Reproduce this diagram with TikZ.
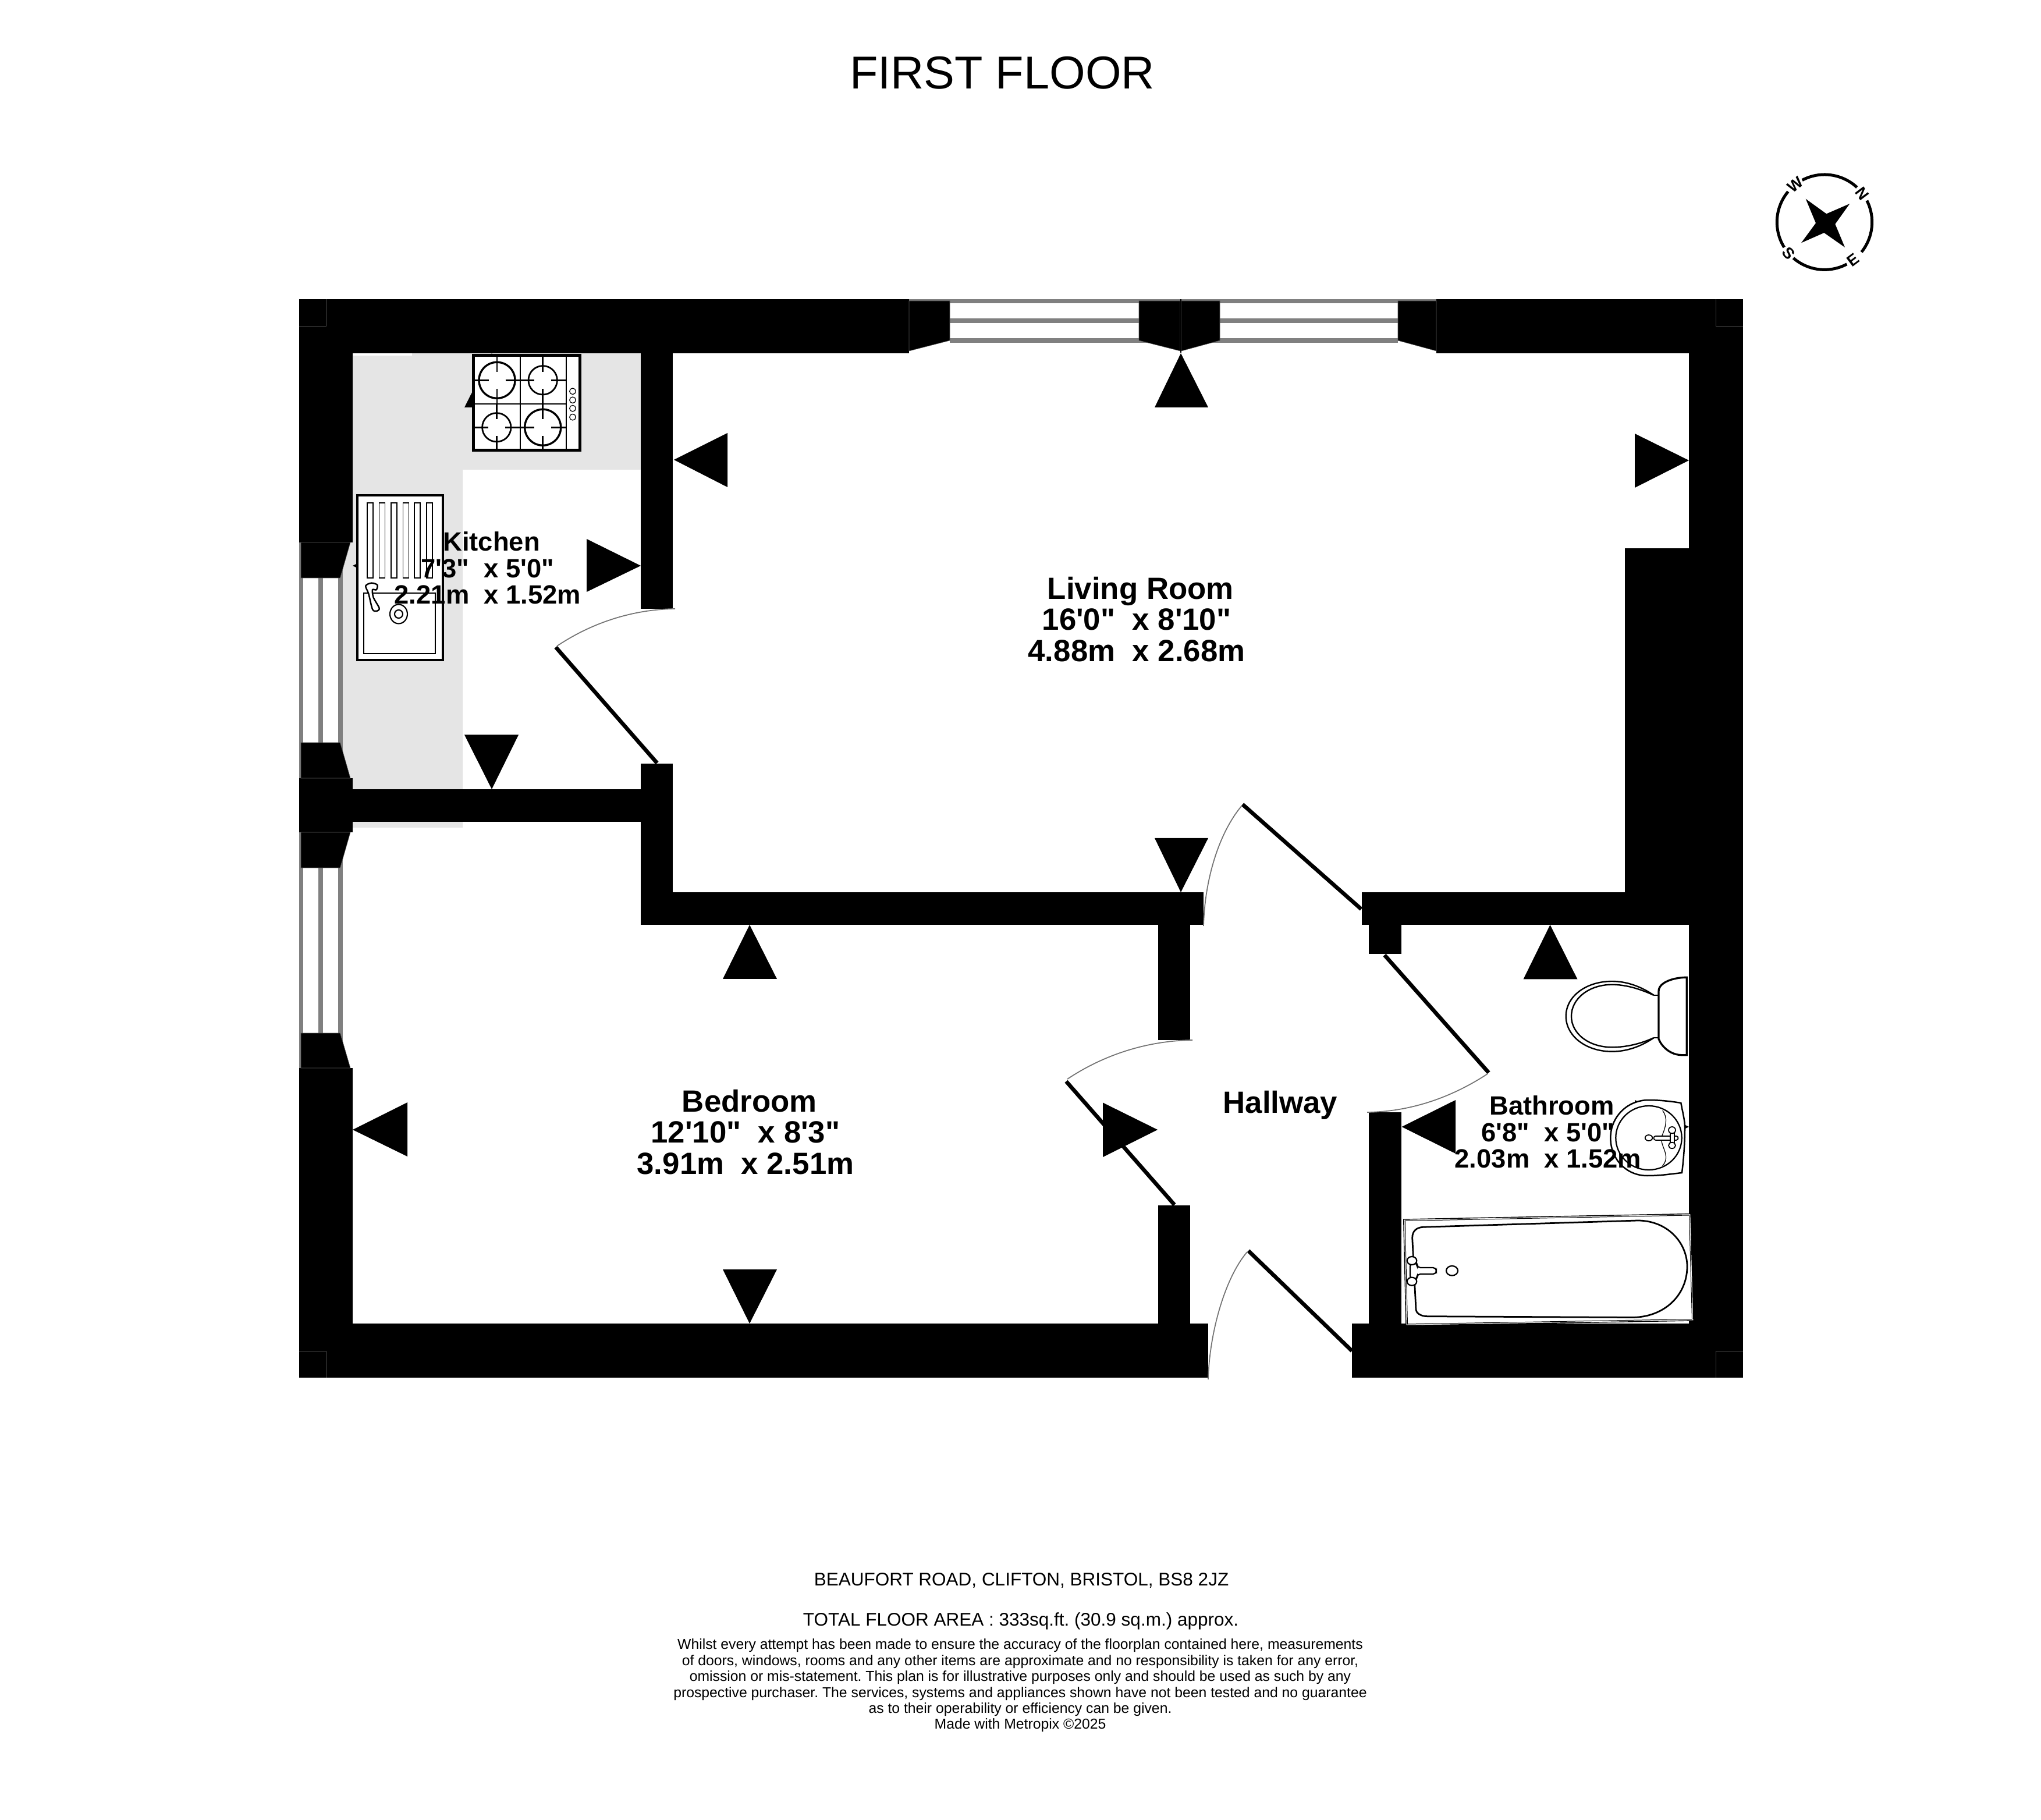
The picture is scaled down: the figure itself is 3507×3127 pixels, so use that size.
\documentclass[tikz,border=0pt]{standalone}
\usepackage{fontspec}
\setmainfont{Liberation Sans}
\newfontfamily\plainsans{Liberation Sans}
\newcommand{\hobburner}[8]{%
  \draw[draw=black,line width=#8] (#1,#2) ellipse [x radius=#3, y radius=#3];
  \draw[hobarm] (#4,#2) -- ({#1-14.5},#2);
  \draw[hobarm] ({#1+14.5},#2) -- (#5,#2);
  \draw[hobarm] (#1,#6) -- (#1,{#2-14.5});
  \draw[hobarm] (#1,{#2+14.5}) -- (#1,#7);
}
\tikzset{
  wall/.style={fill=black,draw=none},
  frameblock/.style={fill=black,draw=black!65,line width=0.12pt},
  seam/.style={draw=black!70,line width=0.12pt},
  glass/.style={fill=black!50,draw=none},
  unitarea/.style={fill=black!10,draw=none},
  leaf/.style={draw=black,line width=1.35pt,line cap=butt},
  swing/.style={draw=black!55,line width=0.35pt},
  fixture/.style={draw=black,fill=white,line width=0.5pt},
  fixthin/.style={draw=black,fill=white,line width=0.35pt},
  tapbar/.style={draw=black,double=white,line width=0.4pt,double distance=1pt,line cap=round},
  hobarm/.style={draw=black,line width=0.5pt},
  hobgrid/.style={draw=black,line width=0.42pt},
  roomlabel/.style={font=\plainsans\bfseries\fontsize{10.56}{10.75}\selectfont,align=center,inner sep=0pt,anchor=center},
  smalllabel/.style={font=\plainsans\bfseries\fontsize{9.08}{9.15}\selectfont,align=center,inner sep=0pt,anchor=center},
  foot/.style={inner sep=0pt,anchor=base,font=\frenchspacing\fontsize{6.3}{7}\selectfont},
  fine/.style={inner sep=0pt,anchor=base,font=\frenchspacing\fontsize{4.95}{5.5}\selectfont},
  compassletter/.style={inner sep=0pt,font=\bfseries\fontsize{5.4}{6}\selectfont},
}
\begin{document}
\begin{tikzpicture}[x=0.2pt,y=-0.2pt]
\useasboundingbox (0,0) rectangle (3507,3127);
\fill[white] (0,0) rectangle (3507,3127);

% kitchen worktop
\fill[unitarea] (606,607) -- (1101,607) -- (1101,807) -- (795,807) -- (795,1422) -- (606,1422) -- cycle;
\fill[unitarea] (588,932) rectangle (606,1337);
\fill[white] (607,607) rectangle (708,610.7);

% window glazing, top
\fill[glass] (1562,514) rectangle (2468,521);
\fill[glass] (1632,547) rectangle (2402,555);
\fill[glass] (1632,581) rectangle (2402,589);
% window glazing, left
\foreach \gx in {513.5,547,581}{
  \fill[glass] (\gx,932) rectangle ({\gx+7.5},1337);
  \fill[glass] (\gx,1430) rectangle ({\gx+7.5},1835);
}

% walls
\fill[wall] (513.5,514) rectangle (1562,607);
\fill[wall] (2468,514) rectangle (2995,607);
\fill[wall] (513.5,514) rectangle (606,932);
\fill[wall] (2902,514) rectangle (2995,2367);
\fill[wall] (2792,941.6) rectangle (2902,1589);
\fill[wall] (1101,514) rectangle (1156,1046);
\fill[wall] (513.5,1337) rectangle (606,1430);
\fill[wall] (606,1356) rectangle (1156,1412);
\fill[wall] (1101,1312.5) rectangle (1156,1589);
\fill[wall] (1101,1533) rectangle (2068,1589);
\fill[wall] (1989.5,1589) rectangle (2045,1787);
\fill[wall] (1989.5,2071) rectangle (2045,2274);
\fill[wall] (513.5,1835) rectangle (606,2367);
\fill[wall] (513.5,2274) rectangle (2076,2367);
\fill[wall] (2323,2274) rectangle (2995,2367);
\fill[wall] (2352,1911) rectangle (2407.5,2274);
\fill[wall] (2340,1533) rectangle (2995,1589);
\fill[wall] (2352,1589) rectangle (2407.5,1639);
% faint corner seams
\draw[seam] (513.5,560) -- (560,560) -- (560,514);
\draw[seam] (2948,514) -- (2948,560) -- (2995,560);
\draw[seam] (513.5,2321) -- (560,2321) -- (560,2367);
\draw[seam] (2948,2367) -- (2948,2321) -- (2995,2321);

% window frames, top
\fill[frameblock] (1562,517) -- (1632,517) -- (1632,585) -- (1562,603) -- cycle;
\fill[frameblock] (1957,517) -- (2028,517) -- (2028,603) -- (1957,585) -- cycle;
\fill[frameblock] (2030,517) -- (2096,517) -- (2096,585) -- (2030,603) -- cycle;
\fill[frameblock] (2402,517) -- (2468,517) -- (2468,603) -- (2402,585) -- cycle;
\fill[wall] (2028,514) rectangle (2030,606);
% window frames, left
\fill[frameblock] (517,932) -- (602,932) -- (584.5,993) -- (517,993) -- cycle;
\fill[frameblock] (517,1276) -- (584.5,1276) -- (602,1337) -- (517,1337) -- cycle;
\fill[frameblock] (517,1430) -- (602,1430) -- (584.5,1491) -- (517,1491) -- cycle;
\fill[frameblock] (517,1775) -- (584.5,1775) -- (602,1835) -- (517,1835) -- cycle;

% measurement arrows
\fill[wall] (2029,607) -- (1984,700) -- (2076,700) -- cycle;
\fill[wall] (1158,790) -- (1250,744) -- (1250,837) -- cycle;
\fill[wall] (2902,791) -- (2809,745) -- (2809,838) -- cycle;
\fill[wall] (2029,1533) -- (1984,1440) -- (2076,1440) -- cycle;
\fill[wall] (1101,972) -- (1008,926) -- (1008,1017) -- cycle;
\fill[wall] (845,1356) -- (798,1262.5) -- (891,1262.5) -- cycle;
\fill[wall] (845,607) -- (798,700) -- (891,700) -- cycle;
\fill[wall] (606,972) -- (699,926) -- (699,1017) -- cycle;
\fill[wall] (2902,1936) -- (2809,1890) -- (2809,1982) -- cycle;
\fill[wall] (2663.5,1589) -- (2617.5,1682.5) -- (2710.5,1682.5) -- cycle;
\fill[wall] (2408.5,1936) -- (2501,1890) -- (2501,1982) -- cycle;
\fill[wall] (1288,1589) -- (1242,1682) -- (1335,1682) -- cycle;
\fill[wall] (1288,2274) -- (1242,2181) -- (1335,2181) -- cycle;
\fill[wall] (606,1941) -- (700,1894) -- (700,1987) -- cycle;
\fill[wall] (1989,1941) -- (1895,1894.5) -- (1895,1988) -- cycle;

% doors
\draw[leaf] (955,1112) -- (1129,1311);
\draw[swing] (1160,1046) .. controls (1090,1047) and (1020,1068) .. (957,1110);
\draw[leaf] (1832,1858) -- (2018,2070);
\draw[swing] (2049,1787) .. controls (1975,1788) and (1900,1810) .. (1834,1854);
\draw[leaf] (2135,1382) -- (2339,1562);
\draw[swing] (2068,1591) .. controls (2070,1510) and (2095,1430) .. (2134,1384);
\draw[leaf] (2379,1641) -- (2558,1843);
\draw[swing] (2349,1911) .. controls (2425,1910) and (2495,1885) .. (2556,1845);
\draw[leaf] (2145,2149) -- (2323,2321);
\draw[swing] (2076,2370) .. controls (2078,2290) and (2105,2195) .. (2143,2151);

% hob
\draw[fixture,line width=1pt] (813,611) rectangle (996,773.5);
\draw[hobgrid] (813,694.3) -- (972.7,694.3);
\draw[hobgrid] (894,611) -- (894,773.5);
\draw[hobgrid] (972.7,611) -- (972.7,773.5);
\hobburner{854}{653.3}{31}{813}{894}{611}{694.3}{0.68pt}
\hobburner{932.7}{653.3}{24.7}{894}{972.7}{611}{694.3}{0.55pt}
\hobburner{853.3}{734.3}{24.7}{813}{894}{694.3}{773.5}{0.55pt}
\hobburner{932.7}{734.3}{31}{894}{972.7}{694.3}{773.5}{0.68pt}
\foreach \ky in {672.3,687.3,701.7,716.7}{
  \draw[draw=black,line width=0.25pt] (984,\ky) ellipse [x radius=5.3, y radius=5.3];
}

% sink
\draw[fixture,line width=0.8pt] (614.3,851) rectangle (761,1134);
\foreach \rx in {631,651.5,672,692.5,712,733}{
  \draw[draw=black,line width=0.3pt] (\rx,864) rectangle ({\rx+10},993);
}
\draw[draw=black,line width=0.45pt] (625,1019.3) rectangle (748.3,1122.7);
\draw[fixture] plot[smooth cycle] coordinates {(628.3,1006.7) (638.3,1001.7) (648.3,1005) (646.7,1013.3) (640,1013.3) (641.7,1026.7) (651.7,1045) (646.7,1050) (640,1046.7) (633.3,1020)};
\draw[fixture,line width=0.42pt] (685,1055) ellipse [x radius=15, y radius=16.5];
\draw[draw=black,line width=0.42pt] (685,1055) ellipse [x radius=7, y radius=7];

% toilet
\draw[fixture,line width=0.66pt] (2898.3,1679.3) .. controls (2875,1679.3) and (2850,1688) .. (2850,1703) -- (2850,1785) .. controls (2855,1798) and (2870,1812.7) .. (2890,1812.7) -- (2898.3,1812.7) -- cycle;
\draw[fixture,line width=0.48pt] (2841.7,1710) .. controls (2820,1695) and (2795,1686) .. (2770,1686) .. controls (2725,1686) and (2690.7,1712) .. (2690.7,1746) .. controls (2690.7,1780) and (2725,1806.7) .. (2770,1806.7) .. controls (2795,1806.7) and (2820,1798) .. (2841.7,1783);
\draw[draw=black,line width=0.48pt] (2841.7,1710) .. controls (2820,1700) and (2795,1691.7) .. (2770,1691.7) .. controls (2730,1691.7) and (2700,1716) .. (2700,1746) .. controls (2700,1776) and (2730,1799.3) .. (2770,1799.3) .. controls (2795,1799.3) and (2820,1793) .. (2841.7,1783);
\draw[draw=black,line width=0.48pt] (2841.7,1710) -- (2850,1710);
\draw[draw=black,line width=0.48pt] (2841.7,1783) -- (2850,1783);

% wash basin
\draw[fixture] (2888.3,1895) .. controls (2892,1915) and (2895,1925) .. (2895,1937) .. controls (2895,1965) and (2893,1990) .. (2890,2015) .. controls (2870,2017) and (2855,2020) .. (2830,2020) .. controls (2795,2020) and (2767.3,1992) .. (2767.3,1955) .. controls (2767.3,1920) and (2795,1890) .. (2833,1890) .. controls (2850,1890) and (2870,1892) .. (2888.3,1895) -- cycle;
\draw[fixture,line width=0.45pt] (2833,1955) ellipse [x radius=56.7, y radius=55];
\draw[draw=black,line width=0.25pt] (2856.7,1908) .. controls (2866,1920) and (2863,1935) .. (2855,1953) .. controls (2852,1970) and (2872,1985) .. (2856.7,2003);
\draw[tapbar] (2845,1955) -- (2880,1955);
\draw[tapbar] (2873,1942) -- (2873,1968);
\draw[fixthin] (2873,1941.7) ellipse [x radius=6, y radius=5.7];
\draw[fixthin] (2873,1968) ellipse [x radius=6, y radius=5.2];
\draw[fixthin] (2833,1955) ellipse [x radius=6.3, y radius=5];

% bath
\draw[fill=white,draw=black,line width=0.28pt] (2411.7,2095) -- (2905,2085.5) -- (2910,2269) -- (2416,2277.5) -- cycle;
\draw[draw=black,line width=0.2pt] (2414.2,2097.5) -- (2902.5,2088) -- (2907.5,2266.5) -- (2418.5,2275) -- cycle;
\draw[fixture,line width=0.55pt] (2445,2108.3) -- (2814,2097) .. controls (2865,2097) and (2899,2135) .. (2899,2176) .. controls (2899,2225) and (2860,2263.5) .. (2804,2263.5) -- (2453,2261.7) .. controls (2440,2261.7) and (2433,2255) .. (2433,2250) -- (2426.7,2126.7) .. controls (2426.7,2115) and (2434,2109) .. (2445,2108.3) -- cycle;
\draw[fixture,line width=0.45pt,rounded corners=1.1pt] (2423,2170) -- (2435,2170) -- (2435,2178) -- (2468,2178) -- (2468,2189) -- (2435,2189) -- (2435,2198) -- (2423,2198) -- cycle;
\draw[fixthin,line width=0.45pt] (2426,2166) ellipse [x radius=8.3, y radius=7];
\draw[fixthin,line width=0.45pt] (2426,2201.7) ellipse [x radius=8.3, y radius=7];
\draw[fixthin,line width=0.45pt] (2495,2183.3) ellipse [x radius=10, y radius=8.3];

% compass
\begin{scope}[shift={(3135,381.7)},x=0.2pt,y=0.2pt]
  \draw[black,line width=1pt] (47:81.7) arc [start angle=47,end angle=118,radius=81.7];
  \draw[black,line width=1pt] (140:81.7) arc [start angle=140,end angle=212,radius=81.7];
  \draw[black,line width=1pt] (229:81.7) arc [start angle=229,end angle=298,radius=81.7];
  \draw[black,line width=1pt] (321:81.7) arc [start angle=321,end angle=387,radius=81.7];
  \fill[black] (-32.3,40) -- (3.3,14.3) -- (43.3,31.7) -- (18.3,-3.3) -- (35,-43.3) -- (-0.7,-18.3) -- (-40,-35.6) -- (-15,-1.6) -- cycle;
  \node[compassletter,rotate=-53] (cn) at (37:81.7) {N};
  \node[compassletter,rotate=38] (cw) at (128:81.7) {W};
  \node[compassletter,rotate=-49] (cs) at (221:81.7) {S};
  \node[compassletter,rotate=37] (ce) at (307:81.7) {E};
\end{scope}

% room labels
\node[roomlabel] (living) at (1953,1064) {\hspace*{2.7pt}Living Room\\16'0"\ \ x 8'10"\\4.88m\ \ x 2.68m};
\node[roomlabel] (bedroom) at (1281,1945) {\hspace*{2.7pt}Bedroom\\12'10"\ \ x 8'3"\\3.91m\ \ x 2.51m};
\node[roomlabel] (hallway) at (2200,1899) {Hallway};
\node[smalllabel] (kitchen) at (838,976) {\hspace*{2.6pt}Kitchen\\7'3"\ \ x 5'0"\\2.21m\ \ x 1.52m};
\node[smalllabel] (bathroom) at (2660,1945) {\hspace*{2.6pt}Bathroom\\6'8"\ \ x 5'0"\\2.03m\ \ x 1.52m};

% titles
\node[inner sep=0pt,anchor=base,font=\fontsize{15.85}{18}\selectfont] (title) at (1722,153) {FIRST FLOOR};
\node[foot] (address) at (1755,2724) {BEAUFORT ROAD, CLIFTON, BRISTOL, BS8 2JZ};
\node[foot] (area) at (1754,2793) {TOTAL FLOOR AREA : 333sq.ft. (30.9 sq.m.) approx.};
\node[fine] (d1) at (1753,2833) {Whilst every attempt has been made to ensure the accuracy of the floorplan contained here, measurements};
\node[fine] (d2) at (1753,2861) {of doors, windows, rooms and any other items are approximate and no responsibility is taken for any error,};
\node[fine] (d3) at (1753,2888) {omission or mis-statement. This plan is for illustrative purposes only and should be used as such by any};
\node[fine] (d4) at (1753,2916) {prospective purchaser. The services, systems and appliances shown have not been tested and no guarantee};
\node[fine] (d5) at (1753,2943) {as to their operability or efficiency can be given.};
\node[fine] (d6) at (1753,2970) {Made with Metropix \textcopyright2025};
\end{tikzpicture}
\end{document}
